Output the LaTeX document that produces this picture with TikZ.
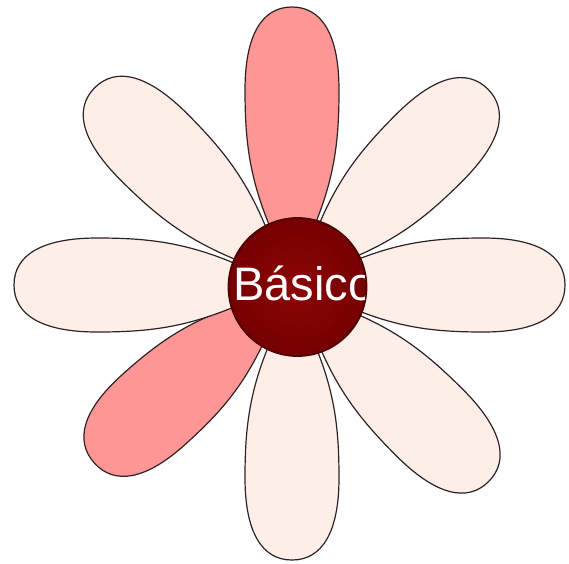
\documentclass[tikz,border=0pt]{standalone}
\usepackage{fontspec}
\setmainfont{Liberation Sans}
\definecolor{petallight}{RGB}{253,238,232}
\definecolor{petalpink}{RGB}{255,150,150}
\definecolor{petaledge}{RGB}{45,35,35}
\definecolor{coreinner}{RGB}{140,6,6}
\definecolor{coreouter}{RGB}{118,0,0}
\definecolor{coreedge}{RGB}{80,0,0}
\tikzset{
  petalshape/.style={draw=petaledge, line width=1.2pt, line join=round},
}
\newcommand\flowerpetal[3]{%
  \begin{scope}[shift={(292,285)}, rotate=#1, xscale=#2/278]
    \path[petalshape, fill=#3]
      (40,-14) .. controls (100,-42) and (140,-47) .. (195,-47)
      .. controls (250,-47) and (278,-30) .. (278,0)
      .. controls (278,30) and (250,47) .. (195,47)
      .. controls (140,47) and (100,42) .. (40,14) -- cycle;
  \end{scope}}
\begin{document}
\begin{tikzpicture}[x=1pt, y=-1pt]
  \useasboundingbox (0,0) rectangle (569,563);
  \flowerpetal{90}{278}{petalpink}
  \flowerpetal{45}{277}{petallight}
  \flowerpetal{0}{273}{petallight}
  \flowerpetal{-45}{278}{petallight}
  \flowerpetal{-90}{275}{petallight}
  \flowerpetal{222}{266}{petalpink}
  \flowerpetal{180}{278}{petallight}
  \flowerpetal{135}{279}{petallight}
  \node[circle, minimum size=138pt, inner sep=0pt, draw=coreedge, line width=1.8pt,
        inner color=coreinner, outer color=coreouter] (core) at (297.5,287) {};
  \begin{scope}
    \clip (297.5,287) circle[radius=68];
    \node[anchor=base west, inner sep=0pt, text=white,
          font=\fontsize{47}{56}\selectfont] (lbl) at (233,300) {Básico};
  \end{scope}
\end{tikzpicture}
\end{document}
